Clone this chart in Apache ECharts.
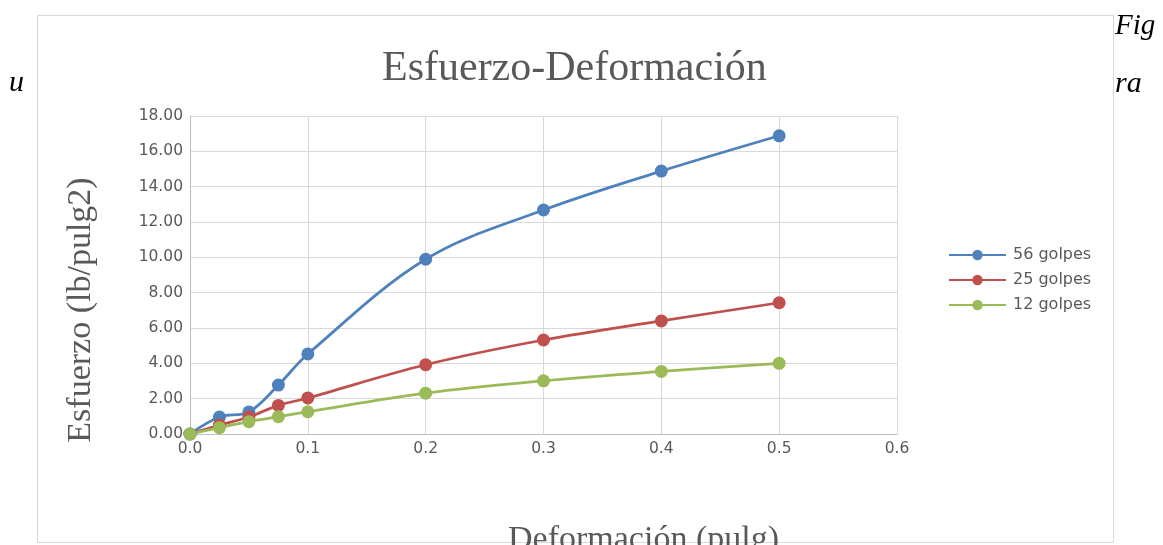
<!DOCTYPE html>
<html>
<head>
<meta charset="utf-8">
<title>Esfuerzo-Deformación</title>
<script src="https://cdn.jsdelivr.net/npm/echarts@6/dist/echarts.min.js"></script>
<style>
  html, body { margin: 0; padding: 0; background: #fff; }
  #chart { width: 1163px; height: 545px; }
</style>
</head>
<body>
<div id="chart"></div>
<script>
// deformación (pulg)
var deformacion = [0, 0.025, 0.05, 0.075, 0.1, 0.2, 0.3, 0.4, 0.5]
// esfuerzo (lb/pulg2)
var golpes56 = [0, 0.96, 1.25, 2.77, 4.53, 9.89, 12.68, 14.88, 16.88]
var golpes25 = [0, 0.51, 0.96, 1.62, 2.04, 3.92, 5.32, 6.40, 7.43]
var golpes12 = [0, 0.36, 0.70, 0.98, 1.26, 2.31, 3.01, 3.54, 4.00]
var seriesNames = ['56 golpes', '25 golpes', '12 golpes']
var colors = ['#4F81BD', '#C0504D', '#9BBB59']

function pairs(ys) {
  return ys.map(function (y, i) { return [deformacion[i], y] })
}

var chart = echarts.init(document.getElementById('chart'))
var gray = '#595959'
var serif = '"Liberation Serif", "DejaVu Serif", serif'
var sans = '"DejaVu Sans", sans-serif'

chart.setOption({
  animation: false,
  color: colors,
  title: {
    text: 'Esfuerzo-Deformación',
    left: 377,
    top: 43,
    textStyle: { fontFamily: serif, fontSize: 42, fontWeight: 'normal', color: gray }
  },
  legend: {
    orient: 'vertical',
    left: 943,
    top: 242,
    itemWidth: 57,
    itemHeight: 13,
    itemGap: 9,
    data: seriesNames,
    textStyle: { fontFamily: sans, fontSize: 16, color: gray, padding: [0, 0, 0, 2] }
  },
  grid: { left: 190, right: 266, top: 116, bottom: 111, outerBoundsMode: 'none', containLabel: false },
  xAxis: {
    type: 'value',
    min: 0,
    max: 0.6,
    interval: 0.1,
    name: 'Deformación (pulg)',
    nameLocation: 'middle',
    nameGap: 89,
    nameTextStyle: { fontFamily: serif, fontSize: 34, color: gray, padding: [0, 0, 0, 200] },
    axisLine: { lineStyle: { color: '#bfbfbf', width: 1 } },
    axisTick: { show: false },
    axisLabel: {
      color: gray, fontSize: 15.5, fontFamily: sans, margin: 7,
      formatter: function (v) { return v.toFixed(1) }
    },
    splitLine: { show: true, lineStyle: { color: '#d9d9d9', width: 1 } }
  },
  yAxis: {
    type: 'value',
    min: 0,
    max: 18,
    interval: 2,
    name: 'Esfuerzo (lb/pulg2)',
    nameLocation: 'middle',
    nameGap: 92,
    nameTextStyle: { fontFamily: serif, fontSize: 34, color: gray, padding: [0, 0, 0, -70] },
    axisLine: { show: true, lineStyle: { color: '#bfbfbf', width: 1 } },
    axisTick: { show: false },
    axisLabel: {
      color: gray, fontSize: 15.5, fontFamily: sans, margin: 7,
      formatter: function (v) { return v.toFixed(2) }
    },
    splitLine: { show: true, lineStyle: { color: '#d9d9d9', width: 1 } }
  },
  graphic: [
    {
      type: 'rect',
      shape: { x: 37.5, y: 15.5, width: 1076, height: 527 },
      style: { fill: 'none', stroke: '#d9d9d9', lineWidth: 1 },
      z: -1
    },
    {
      type: 'text', left: 1115, top: 12,
      style: { text: 'Fig', font: 'italic 29px "Liberation Serif", serif', fill: '#000' }
    },
    {
      type: 'text', left: 9, top: 68,
      style: { text: 'u', font: 'italic 30px "Liberation Serif", serif', fill: '#000' }
    },
    {
      type: 'text', left: 1115, top: 69,
      style: { text: 'ra', font: 'italic 30px "Liberation Serif", serif', fill: '#000' }
    }
  ],
  series: [golpes56, golpes25, golpes12].map(function (ys, i) {
    return {
      name: seriesNames[i],
      type: 'line',
      smooth: 0.35,
      symbol: 'circle',
      symbolSize: 13,
      lineStyle: { width: 2.75 },
      data: pairs(ys)
    }
  })
})
</script>
</body>
</html>
